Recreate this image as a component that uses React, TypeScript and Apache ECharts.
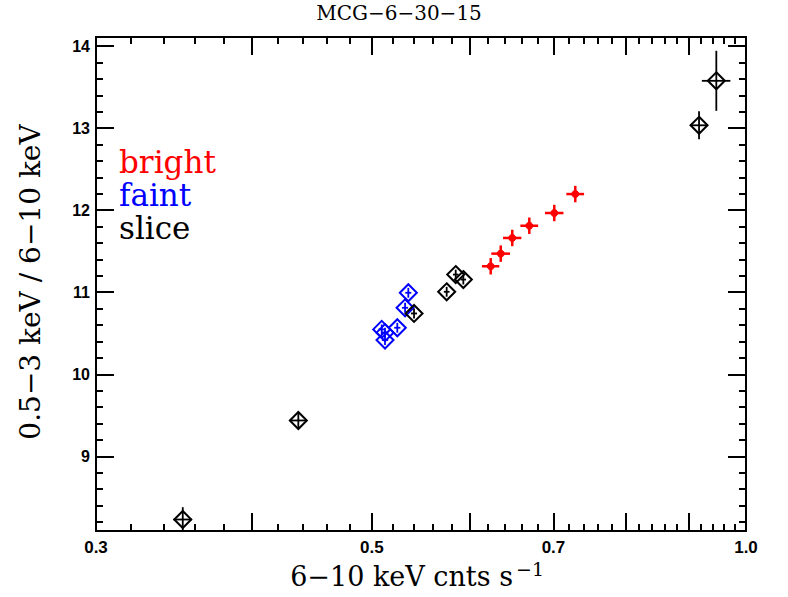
import React, { useEffect, useRef } from 'react';
import * as echarts from 'echarts';

// ---- data (x: 6-10 keV count rate, y: hardness ratio) ----
const brightX = [0.6232, 0.6349, 0.6486, 0.6694, 0.7011, 0.7289];
const brightY = [11.316, 11.47, 11.661, 11.81, 11.965, 12.196];
const brightXErr = [0.01, 0.011, 0.011, 0.011, 0.012, 0.012];
const brightYErr = [0.1, 0.1, 0.1, 0.1, 0.1, 0.1];

const faintX = [0.5093, 0.5124, 0.5124, 0.5242, 0.5318, 0.535];
const faintY = [10.547, 10.507, 10.417, 10.567, 10.81, 10.993];
const faintXErr = [0.003, 0.003, 0.003, 0.003, 0.003, 0.003];
const faintYErr = [0.06, 0.06, 0.06, 0.06, 0.06, 0.06];

const sliceX = [0.3523, 0.4364, 0.5407, 0.5744, 0.5841, 0.5924, 0.9167, 0.9465];
const sliceY = [8.23, 9.437, 10.741, 11.005, 11.215, 11.154, 13.034, 13.576];
const sliceXErr = [0.006, 0.007, 0.003, 0.003, 0.003, 0.003, 0.015, 0.025];
const sliceYErr = [0.15, 0.1, 0.06, 0.06, 0.06, 0.06, 0.17, 0.366];

// ---- axes ----
const xMin = 0.3;
const xMax = 1.0;
const yMin = 8.09;
const yMax = 14.11;
const xTickLabels = [0.3, 0.5, 0.7, 1.0];
const xMajorTicks = [0.4, 0.5, 0.6, 0.7, 0.8, 0.9, 1.0];
const xMinorTicks = [
  0.32, 0.34, 0.36, 0.38, 0.42, 0.44, 0.46, 0.48, 0.52, 0.54, 0.56, 0.58,
  0.62, 0.64, 0.66, 0.68, 0.72, 0.74, 0.76, 0.78, 0.82, 0.84, 0.86, 0.88,
  0.92, 0.94, 0.96, 0.98,
];
const yTickLabels = [9, 10, 11, 12, 13, 14];
const yMajorTicks = [9, 10, 11, 12, 13, 14];
const yMinorTicks = [
  8.2, 8.4, 8.6, 8.8, 9.2, 9.4, 9.6, 9.8, 10.2, 10.4, 10.6, 10.8, 11.2, 11.4,
  11.6, 11.8, 12.2, 12.4, 12.6, 12.8, 13.2, 13.4, 13.6, 13.8,
];

const titleText = 'MCG−6−30−15';
const xTitle = '6−10 keV cnts s';
const xTitleSup = '−1';
const yTitle = '0.5−3 keV / 6−10 keV';
const legendItems = [
  { key: 'b', text: 'bright', color: '#ff0000' },
  { key: 'f', text: 'faint', color: '#0000ff' },
  { key: 's', text: 'slice', color: '#000000' },
];

const lg = (v: number) => Math.log10(v);
const SERIF = '"DejaVu Serif", serif';
const SANS = '"Liberation Sans", Arial, sans-serif';

function buildSeries(
  name: string,
  xs: number[],
  ys: number[],
  xe: number[],
  ye: number[],
  color: string,
  kind: 'diamond' | 'dot'
) {
  const data = xs.map((x, i) => [
    lg(x),
    ys[i],
    lg(x - xe[i]),
    lg(x + xe[i]),
    ys[i] - ye[i],
    ys[i] + ye[i],
  ]);
  return {
    type: 'custom',
    name,
    xAxisIndex: 0,
    yAxisIndex: 0,
    clip: false,
    data,
    encode: { x: 0, y: 1 },
    renderItem: (_params: any, api: any) => {
      const c = api.coord([api.value(0), api.value(1)]);
      const l = api.coord([api.value(2), api.value(1)]);
      const r = api.coord([api.value(3), api.value(1)]);
      const b = api.coord([api.value(0), api.value(4)]);
      const t = api.coord([api.value(0), api.value(5)]);
      const lw = kind === 'dot' ? 2.5 : 1.8;
      const children: any[] = [
        {
          type: 'line',
          shape: { x1: l[0], y1: c[1], x2: r[0], y2: c[1] },
          style: { stroke: color, lineWidth: lw },
        },
        {
          type: 'line',
          shape: { x1: c[0], y1: b[1], x2: c[0], y2: t[1] },
          style: { stroke: color, lineWidth: lw },
        },
      ];
      if (kind === 'diamond') {
        const h = 8.5;
        children.push({
          type: 'polygon',
          shape: {
            points: [
              [c[0], c[1] - h],
              [c[0] + h, c[1]],
              [c[0], c[1] + h],
              [c[0] - h, c[1]],
            ],
          },
          style: { fill: 'none', stroke: color, lineWidth: 2 },
        });
      } else {
        children.push({
          type: 'circle',
          shape: { cx: c[0], cy: c[1], r: 3.5 },
          style: { fill: color, stroke: color, lineWidth: 1 },
        });
      }
      return { type: 'group', children };
    },
  };
}

const axisLineStyle = { color: '#000', width: 2 };

function xAxisDef(position: 'top' | 'bottom', major: boolean, showLine: boolean, showLabel: boolean) {
  return {
    type: 'value',
    position,
    min: lg(xMin),
    max: lg(xMax),
    axisLine: { show: showLine, onZero: false, lineStyle: axisLineStyle },
    axisTick: {
      show: true,
      inside: true,
      length: major ? 18 : 7,
      customValues: (major ? xMajorTicks : xMinorTicks).map(lg),
      lineStyle: { color: '#000', width: 2 },
    },
    axisLabel: {
      show: showLabel,
      customValues: xTickLabels.map(lg),
      formatter: (v: number) => Math.pow(10, v).toFixed(1),
      margin: 8,
      color: '#000',
      fontFamily: SANS,
      fontWeight: 'bold',
      fontSize: 17,
    },
    splitLine: { show: false },
  };
}

function yAxisDef(position: 'left' | 'right', major: boolean, showLine: boolean, showLabel: boolean) {
  return {
    type: 'value',
    position,
    min: yMin,
    max: yMax,
    axisLine: { show: showLine, onZero: false, lineStyle: axisLineStyle },
    axisTick: {
      show: true,
      inside: true,
      length: major ? 18 : 7,
      customValues: major ? yMajorTicks : yMinorTicks,
      lineStyle: { color: '#000', width: 2 },
    },
    axisLabel: {
      show: showLabel,
      customValues: yTickLabels,
      formatter: (v: number) => String(Math.round(v)),
      margin: 6,
      color: '#000',
      fontFamily: SANS,
      fontWeight: 'bold',
      fontSize: 16,
    },
    splitLine: { show: false },
  };
}

export default function App() {
  const ref = useRef<HTMLDivElement>(null);

  useEffect(() => {
    if (!ref.current) return;
    const chart = echarts.init(ref.current, undefined, { renderer: 'svg' });

    const legendFont = 31;
    const legendLine = 33;
    const legendRich: Record<string, any> = {};
    legendItems.forEach((it) => {
      legendRich[it.key] = {
        fill: it.color,
        fontFamily: SERIF,
        fontSize: legendFont,
        lineHeight: legendLine,
      };
    });

    chart.setOption({
      animation: false,
      backgroundColor: '#fff',
      grid: { left: 96, right: 42, top: 37, bottom: 66, containLabel: false },
      xAxis: [
        xAxisDef('bottom', true, true, true),
        xAxisDef('bottom', false, false, false),
        xAxisDef('top', true, true, false),
        xAxisDef('top', false, false, false),
      ],
      yAxis: [
        yAxisDef('left', true, true, true),
        yAxisDef('left', false, false, false),
        yAxisDef('right', true, true, false),
        yAxisDef('right', false, false, false),
      ],
      series: [
        buildSeries('faint', faintX, faintY, faintXErr, faintYErr, '#0000ff', 'diamond'),
        buildSeries('slice', sliceX, sliceY, sliceXErr, sliceYErr, '#000000', 'diamond'),
        buildSeries('bright', brightX, brightY, brightXErr, brightYErr, '#ff0000', 'dot'),
      ],
      graphic: [
        {
          type: 'text',
          x: 399,
          y: 19.5 - 0.346 * 20,
          style: {
            text: titleText,
            fontFamily: SERIF,
            fontSize: 20,
            fill: '#000',
            align: 'center',
            verticalAlign: 'middle',
          },
        },
        {
          type: 'text',
          x: 513,
          y: 586 - 0.346 * 27,
          style: {
            text: xTitle,
            fontFamily: SERIF,
            fontSize: 27,
            fill: '#000',
            align: 'right',
            verticalAlign: 'middle',
          },
        },
        {
          type: 'text',
          x: 516,
          y: 576 - 0.346 * 19,
          style: {
            text: xTitleSup,
            fontFamily: SERIF,
            fontSize: 19,
            fill: '#000',
            align: 'left',
            verticalAlign: 'middle',
          },
        },
        {
          type: 'text',
          x: 30,
          y: 282,
          rotation: Math.PI / 2,
          style: {
            text: yTitle,
            fontFamily: SERIF,
            fontSize: 28,
            fill: '#000',
            align: 'center',
            verticalAlign: 'middle',
          },
        },
        {
          type: 'text',
          x: 119,
          y: 173 - legendLine / 2 - 0.346 * legendFont,
          style: {
            text: legendItems.map((it) => `{${it.key}|${it.text}}`).join('\n'),
            rich: legendRich,
            fontFamily: SERIF,
            fontSize: legendFont,
            lineHeight: legendLine,
            align: 'left',
            verticalAlign: 'top',
          },
        },
      ],
    });

    return () => chart.dispose();
  }, []);

  return (
    <div
      ref={ref}
      style={{ position: 'absolute', left: 0, top: 0, width: 788, height: 597 }}
    />
  );
}
